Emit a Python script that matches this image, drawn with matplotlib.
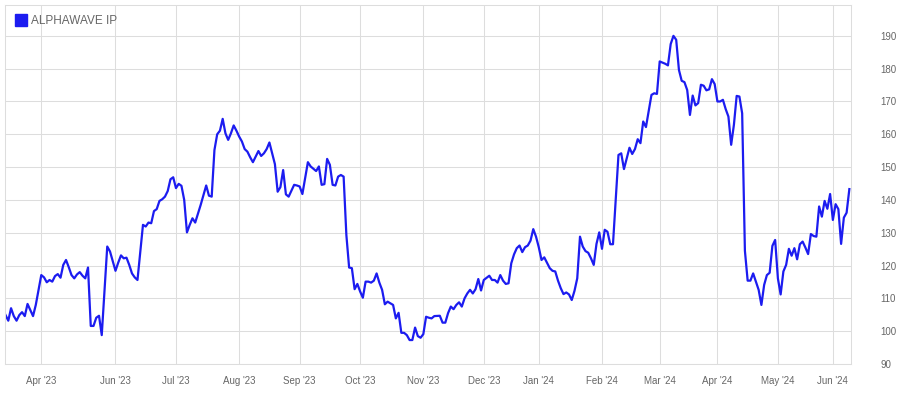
import matplotlib
matplotlib.use("Agg")
import matplotlib.pyplot as plt
from matplotlib.lines import Line2D

# trading-session number (x) and closing price (y)
sessions = [
    0, 1, 2, 3, 4, 5, 6, 7, 8, 10, 11, 13, 14, 15, 16, 17, 18, 19, 20, 21,
    22, 23, 24, 25, 26, 27, 28, 29, 30, 31, 32, 33, 34, 35, 37, 38, 40, 41, 42, 43,
    44, 45, 46, 47, 48, 50, 51, 52, 53, 54, 55, 56, 57, 58, 59, 60, 61, 62, 63, 64,
    65, 66, 67, 68, 69, 71, 72, 73, 74, 75, 76, 77, 78, 79, 80, 81, 82, 83, 84, 85,
    86, 87, 88, 89, 90, 91, 92, 93, 94, 95, 96, 98, 99, 100, 101, 102, 103, 105, 106, 107,
    108, 110, 111, 113, 114, 115, 116, 117, 118, 119, 120, 121, 122, 123, 124, 125, 126, 127, 128, 129,
    130, 131, 132, 133, 134, 135, 136, 137, 138, 139, 141, 142, 143, 144, 145, 146, 147, 148, 149, 150,
    151, 152, 153, 154, 155, 156, 158, 159, 160, 161, 162, 163, 164, 165, 166, 167, 168, 169, 170, 171,
    172, 173, 174, 176, 177, 178, 179, 180, 181, 182, 183, 184, 185, 186, 187, 188, 189, 190, 191, 192,
    193, 194, 195, 196, 198, 199, 200, 201, 202, 203, 204, 205, 206, 207, 208, 209, 210, 211, 212, 213,
    214, 215, 216, 217, 218, 219, 220, 221, 223, 224, 225, 227, 228, 229, 230, 231, 232, 233, 234, 235,
    236, 237, 238, 240, 241, 242, 243, 244, 245, 246, 247, 248, 249, 250, 251, 252, 253, 254, 255, 256,
    257, 258, 259, 260, 261, 262, 263, 264, 265, 266, 267, 268, 269, 270, 271, 272, 274, 275, 276, 277,
    278, 279, 280, 281, 282, 283, 284, 285, 286, 287, 288, 289, 290, 291, 292, 293, 294, 295, 296, 297,
    298, 299, 300, 301, 302, 303, 304, 305, 306, 307,
]
prices = [
    104.9, 103.2, 107.0, 104.6, 103.2, 104.9, 105.8, 104.6, 108.3, 104.6, 108.0, 117.1, 116.4, 114.9, 115.6, 115.1, 116.8, 117.4, 116.3, 120.2,
    121.7, 119.5, 117.1, 116.1, 117.3, 118.0, 116.9, 116.1, 119.4, 101.6, 101.6, 104.1, 104.7, 98.8, 125.8, 124.3, 118.4, 120.9, 123.1, 122.2,
    122.4, 120.2, 117.6, 116.4, 115.6, 132.4, 131.9, 133.1, 132.9, 136.6, 137.2, 139.7, 140.2, 141.0, 142.7, 146.3, 146.9, 143.6, 144.9, 144.3,
    140.0, 130.1, 132.4, 134.4, 133.1, 138.5, 141.5, 144.4, 141.3, 141.0, 155.2, 160.0, 161.1, 164.7, 160.3, 158.3, 160.3, 162.7, 161.1, 159.3,
    157.8, 155.5, 154.7, 153.0, 151.5, 153.2, 154.9, 153.4, 154.2, 155.5, 157.5, 150.9, 142.5, 143.9, 149.1, 141.7, 141.0, 144.6, 144.4, 144.1,
    141.8, 151.5, 150.2, 148.8, 150.2, 144.6, 144.8, 152.5, 150.7, 144.6, 144.4, 147.1, 147.6, 147.1, 129.3, 119.4, 119.2, 112.8, 114.4, 112.1,
    110.2, 115.1, 115.1, 114.8, 115.4, 117.6, 114.8, 112.6, 108.2, 109.0, 108.0, 103.9, 105.6, 99.5, 99.5, 98.8, 97.3, 97.3, 101.1, 98.5,
    98.0, 99.1, 104.4, 104.1, 103.9, 104.6, 104.7, 102.6, 102.6, 105.5, 107.5, 106.7, 108.0, 108.8, 107.5, 110.0, 111.5, 112.6, 111.5, 112.8,
    115.9, 112.4, 115.6, 116.9, 115.6, 115.6, 114.8, 117.1, 115.4, 114.4, 114.6, 120.7, 123.4, 125.3, 126.1, 124.1, 125.6, 126.1, 127.6, 131.1,
    128.8, 125.6, 121.7, 122.5, 119.2, 118.4, 118.2, 115.4, 113.1, 111.3, 111.8, 111.2, 109.5, 112.3, 116.1, 128.8, 125.8, 124.4, 123.9, 122.2,
    120.2, 126.6, 130.1, 125.1, 130.9, 130.3, 126.5, 126.5, 153.7, 154.2, 149.4, 155.9, 154.0, 155.5, 158.5, 157.3, 163.9, 162.2, 167.1, 172.0,
    172.5, 172.3, 182.2, 181.5, 181.0, 187.5, 190.0, 188.8, 179.6, 176.3, 175.9, 173.5, 165.9, 171.8, 168.8, 169.5, 175.1, 174.8, 173.4, 173.7,
    176.8, 175.3, 170.0, 170.0, 170.5, 167.7, 165.4, 156.8, 162.9, 171.7, 171.5, 166.4, 124.5, 115.4, 115.4, 117.6, 112.6, 108.0, 114.1, 117.1,
    117.8, 126.0, 127.8, 116.1, 111.2, 118.2, 120.2, 125.1, 123.0, 125.3, 121.9, 126.5, 127.3, 125.5, 123.5, 129.6, 129.0, 128.8, 138.0, 134.9,
    139.7, 137.3, 141.8, 133.9, 138.7, 137.2, 126.6, 134.6, 136.1, 143.3,
]

month_pos = [13, 40, 62, 85, 107, 129, 152, 174, 194, 217, 238, 259, 281, 301]
month_labels = ["Apr '23", "Jun '23", "Jul '23", "Aug '23", "Sep '23", "Oct '23", "Nov '23",
                "Dec '23", "Jan '24", "Feb '24", "Mar '24", "Apr '24", "May '24", "Jun '24"]
y_ticks = [90, 100, 110, 120, 130, 140, 150, 160, 170, 180, 190]

series_name = "ALPHAWAVE IP"
line_color = "#1c1cf0"
grid_color = "#dddddd"
text_color = "#666666"

plt.rcParams['font.family'] = ['Liberation Sans', 'DejaVu Sans']

fig = plt.figure(figsize=(9.03, 3.93), dpi=100)
ax = fig.add_axes([5 / 903, 29 / 393, 846 / 903, 359 / 393])

ax.plot(sessions, prices, color=line_color, linewidth=1.6, solid_joinstyle='round')

ax.set_xlim(-0.2, 307.6)
ax.set_ylim(90, 199.4)
ax.set_xticks(month_pos)
ax.set_xticklabels(month_labels)
ax.set_yticks(y_ticks)

ax.yaxis.tick_right()
ax.tick_params(axis='y', length=0, pad=21, labelsize=7, labelcolor=text_color)
ax.tick_params(axis='x', length=0, pad=9, labelsize=7, labelcolor=text_color)
for lab in ax.get_yticklabels():
    lab.set_horizontalalignment('left')

ax.grid(True, color=grid_color, linewidth=0.75)
ax.set_axisbelow(True)
for sp in ax.spines.values():
    sp.set_color(grid_color)
    sp.set_linewidth(0.75)

# legend: blue square + series name, top-left
handle = Line2D([], [], marker='s', linestyle='none', markersize=8, color=line_color)
ax.legend([handle], [series_name], loc='upper left', frameon=False,
          fontsize=8.5, labelcolor=text_color, handlelength=1.0, handletextpad=0.35,
          borderaxespad=0.45, borderpad=0.4)

fig.savefig("out.png", dpi=100, facecolor='white')
